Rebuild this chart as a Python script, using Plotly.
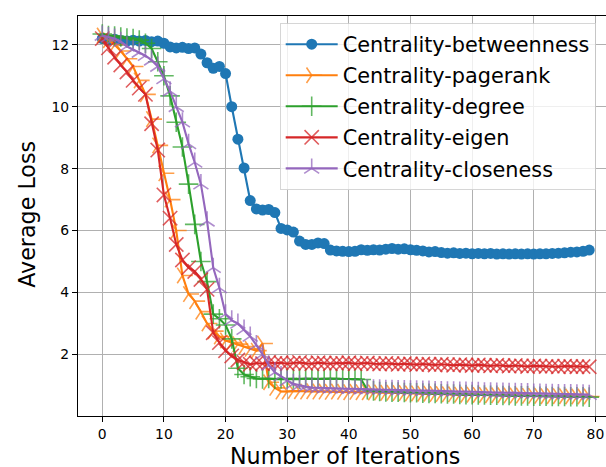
import plotly.graph_objects as go

iterations = list(range(80))

betweenness = [12.20, 12.15, 12.18, 12.14, 12.12, 12.15, 12.12, 12.14, 12.10, 12.12,
               12.05, 11.93, 11.90, 11.92, 11.88, 11.90, 11.70, 11.42, 11.24, 11.30,
               11.07, 10.00, 8.95, 8.02, 6.97, 6.70, 6.66, 6.68, 6.58, 6.07,
               6.02, 5.95, 5.66, 5.55, 5.55, 5.60, 5.58, 5.37, 5.34, 5.33,
               5.32, 5.33, 5.38, 5.36, 5.38, 5.37, 5.40, 5.42, 5.40, 5.41,
               5.38, 5.36, 5.34, 5.31, 5.32, 5.29, 5.27, 5.28, 5.26, 5.27,
               5.25, 5.26, 5.25, 5.26, 5.24, 5.25, 5.24, 5.25, 5.24, 5.25,
               5.24, 5.25, 5.25, 5.26, 5.27, 5.28, 5.30, 5.31, 5.33, 5.37]

pagerank = [12.30, 12.15, 12.00, 11.80, 11.55, 11.30, 10.85, 10.40, 9.60, 8.75,
            7.85, 7.00, 6.00, 4.55, 3.95, 3.72, 3.38, 3.00, 2.75, 2.58,
            2.45, 2.38, 2.33, 2.25, 2.18, 2.12, 2.35, 1.10, 0.92, 0.80,
            0.80, 0.82, 0.81, 0.80, 0.81, 0.80, 0.80, 0.79, 0.80, 0.79,
            0.78, 0.79, 0.78, 0.78, 0.77, 0.77, 0.76, 0.76, 0.75, 0.75,
            0.74, 0.74, 0.73, 0.73, 0.72, 0.72, 0.71, 0.71, 0.70, 0.70,
            0.70, 0.69, 0.69, 0.68, 0.68, 0.68, 0.67, 0.67, 0.67, 0.66,
            0.66, 0.66, 0.65, 0.65, 0.65, 0.65, 0.64, 0.64, 0.64, 0.64]

degree = [12.35, 12.30, 12.28, 12.25, 12.22, 12.20, 12.15, 12.05, 11.88, 11.45,
          11.00, 10.35, 9.50, 8.70, 7.50, 6.20, 5.00, 4.35, 3.30, 3.15,
          2.95, 2.50, 1.55, 1.35, 1.28, 1.22, 1.21, 1.22, 1.20, 1.21,
          1.22, 1.21, 1.20, 1.22, 1.21, 1.20, 1.21, 1.22, 1.21, 1.20,
          1.21, 1.20, 1.19, 0.86, 0.82, 0.80, 0.79, 0.78, 0.78, 0.77,
          0.76, 0.76, 0.75, 0.74, 0.74, 0.73, 0.72, 0.72, 0.71, 0.70,
          0.70, 0.69, 0.69, 0.68, 0.68, 0.67, 0.67, 0.66, 0.66, 0.66,
          0.65, 0.65, 0.65, 0.64, 0.64, 0.64, 0.63, 0.63, 0.63, 0.62]

eigen = [12.20, 11.90, 11.60, 11.35, 11.12, 10.85, 10.60, 10.40, 9.45, 8.60,
         7.15, 6.40, 5.55, 5.05, 4.80, 4.68, 4.42, 4.10, 2.70, 2.38,
         2.12, 1.95, 1.82, 1.74, 1.68, 1.72, 1.70, 1.74, 1.71, 1.73,
         1.70, 1.72, 1.74, 1.71, 1.70, 1.73, 1.72, 1.70, 1.72, 1.71,
         1.73, 1.70, 1.71, 1.72, 1.70, 1.69, 1.71, 1.70, 1.68, 1.70,
         1.69, 1.67, 1.69, 1.68, 1.66, 1.68, 1.67, 1.65, 1.67, 1.66,
         1.64, 1.66, 1.65, 1.63, 1.65, 1.64, 1.62, 1.64, 1.63, 1.61,
         1.63, 1.62, 1.61, 1.62, 1.60, 1.62, 1.61, 1.60, 1.61, 1.60]

closeness = [12.30, 12.25, 12.20, 12.10, 11.95, 11.85, 11.75, 11.65, 11.50, 11.30,
             10.90, 10.50, 10.00, 9.50, 8.80, 8.20, 7.50, 6.30, 4.80, 4.15,
             3.30, 3.10, 3.00, 2.80, 2.58, 2.30, 2.00, 1.65, 1.42, 1.30,
             1.15, 1.05, 1.00, 0.96, 0.93, 0.92, 0.91, 0.91, 0.90, 0.90,
             0.89, 0.89, 0.88, 0.88, 0.87, 0.87, 0.86, 0.86, 0.85, 0.85,
             0.84, 0.84, 0.83, 0.83, 0.82, 0.82, 0.81, 0.81, 0.80, 0.80,
             0.79, 0.79, 0.78, 0.78, 0.77, 0.77, 0.76, 0.76, 0.75, 0.75,
             0.74, 0.74, 0.73, 0.73, 0.72, 0.72, 0.72, 0.71, 0.71, 0.70]

series = [
    ("Centrality-betweenness", betweenness, "31,119,180", "circle", 11),
    ("Centrality-pagerank", pagerank, "255,127,14", "y-right", 13),
    ("Centrality-degree", degree, "44,160,44", "cross-thin", 14),
    ("Centrality-eigen", eigen, "214,39,40", "x-thin", 14.3),
    ("Centrality-closeness", closeness, "148,103,189", "y-up", 12.5),
]

fig = go.Figure()
for i, (name, vals, rgb, sym, size) in enumerate(series):
    if sym == "circle":
        marker = dict(symbol=sym, size=size, color=f"rgb({rgb})",
                      line=dict(width=0))
    else:
        marker = dict(symbol=sym, size=size, color=f"rgba({rgb},0.75)",
                      line=dict(width=1.6, color=f"rgba({rgb},0.75)"))
    fig.add_trace(go.Scatter(
        x=iterations, y=vals, name=name, mode="lines+markers",
        line=dict(color=f"rgb({rgb})", width=2.1),
        marker=marker, legendgroup=f"g{i}",
    ))

font = "DejaVu Sans, sans-serif"
axis_common = dict(
    showgrid=True, gridcolor="#b0b0b0", gridwidth=1.1,
    showline=True, linecolor="black", linewidth=1.1,
    ticks="outside", ticklen=5, tickwidth=1.1, tickcolor="black",
    tickfont=dict(family=font, size=13.9, color="black"),
    zeroline=False,
)

fig.update_layout(
    width=606, height=467,
    margin=dict(l=78, r=0, t=16, b=51),
    paper_bgcolor="white", plot_bgcolor="white",
    font=dict(family=font, color="black"),
    xaxis=dict(range=[-3.94, 81.72], tickvals=[0, 10, 20, 30, 40, 50, 60, 70, 80],
               mirror=True, **axis_common),
    yaxis=dict(range=[0.01, 12.93], tickvals=[2, 4, 6, 8, 10, 12],
               mirror=False, **axis_common),
    legend=dict(
        x=0.382, y=0.982, xanchor="left", yanchor="top",
        bgcolor="rgba(255,255,255,0.8)", bordercolor="rgba(204,204,204,0.8)",
        borderwidth=1, font=dict(family=font, size=20.8, color="black"),
        tracegroupgap=1, itemwidth=52,
    ),
    annotations=[
        dict(text="Number of Iterations", xref="paper", yref="paper",
             x=0.506, y=-0.063, xanchor="center", yanchor="top", showarrow=False,
             font=dict(family=font, size=22.2, color="black")),
        dict(text="Average Loss", xref="paper", yref="paper",
             x=-0.097, y=0.505, xanchor="center", yanchor="middle", showarrow=False,
             textangle=-90, font=dict(family=font, size=22.2, color="black")),
    ],
)

fig.write_html("out.html")
